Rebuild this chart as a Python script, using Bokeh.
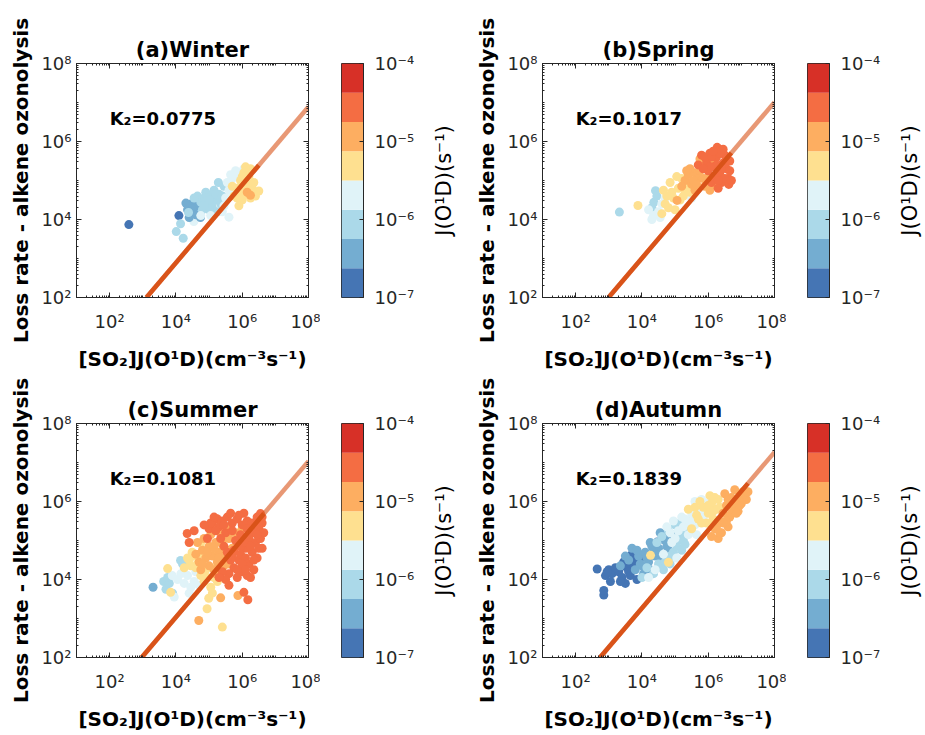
import math
from bokeh.plotting import figure
from bokeh.layouts import row, column
from bokeh.models import FixedTicker, LogColorMapper, LogAxis, ColumnDataSource, Range1d
from bokeh.core.properties import value
from bokeh.embed import file_html
from bokeh.resources import INLINE

FONT = "DejaVu Sans"
INK = "#262626"
FIT_COLOR = "#D95319"

# ---------------- texts / ticks ----------------
titles = ["(a)Winter", "(b)Spring", "(c)Summer", "(d)Autumn"]
k2_values = [0.0775, 0.1017, 0.1081, 0.1839]
k2_labels = ["K₂=0.0775", "K₂=0.1017", "K₂=0.1081", "K₂=0.1839"]
x_label = "[SO₂]J(O¹D)(cm⁻³s⁻¹)"
y_label = "Loss rate - alkene ozonolysis"
cb_label = "J(O¹D)(s⁻¹)"

x_tick_values = [1e2, 1e4, 1e6, 1e8]
x_tick_labels = ["10²", "10⁴", "10⁶", "10⁸"]
y_tick_values = [1e2, 1e4, 1e6, 1e8]
y_tick_labels = ["10²", "10⁴", "10⁶", "10⁸"]
cb_tick_values = [1e-7, 1e-6, 1e-5, 1e-4]
cb_tick_labels = ["10⁻⁷", "10⁻⁶", "10⁻⁵", "10⁻⁴"]
cb_bin_edges_log = [-7.0, -6.625, -6.25, -5.875, -5.5, -5.125, -4.75, -4.375, -4.0]
cb_colors = ["#4575b4", "#74add1", "#abd9e9", "#e0f3f8",
             "#fee090", "#fdae61", "#f46d43", "#d73027"]

# ---------------- data (log10 values) ----------------
winter_logx = [2.58, 4.09, 4.14, 4.01, 4.22, 4.54, 5.60,
               4.35, 4.45, 4.55, 4.62, 4.50, 4.70, 4.40, 4.74, 4.30, 4.48, 4.60,
               4.75, 4.85, 4.95, 5.05, 5.10, 5.20, 5.30, 4.90, 5.00, 5.15, 5.35, 5.25, 4.80, 5.28, 5.45, 4.65, 4.55, 4.38,
               4.95, 5.10, 5.20, 5.00, 4.85, 5.40,
               5.40, 5.50, 5.55, 5.65, 5.80, 5.95, 5.60, 5.45, 5.05, 4.75, 5.70, 6.05, 5.75, 5.90,
               5.75, 5.85, 5.95, 6.05, 6.10, 6.20, 6.00, 5.90, 6.15, 6.30, 6.25, 6.50, 5.70, 6.35, 6.10, 6.40,
               5.95, 6.05, 6.20, 6.25, 5.85, 6.00,
               6.15, 6.25]
winter_logy = [3.87, 4.10, 3.89, 3.69, 3.52, 3.95, 4.06,
               4.25, 4.40, 4.30, 4.45, 4.15, 4.35, 4.05, 4.05, 4.42, 4.28, 4.12,
               4.45, 4.55, 4.40, 4.60, 4.30, 4.50, 4.65, 4.70, 4.25, 4.75, 4.40, 4.20, 4.25, 4.95, 4.85, 4.60, 4.55, 4.18,
               4.55, 4.45, 4.65, 4.50, 4.35, 4.60,
               4.20, 4.55, 4.95, 5.15, 5.25, 5.20, 4.75, 4.35, 4.10, 4.10, 5.05, 5.30, 5.15, 5.10,
               4.60, 4.80, 5.00, 5.20, 4.90, 5.10, 4.50, 4.35, 4.65, 4.80, 5.30, 4.73, 4.85, 4.95, 5.35, 4.60,
               4.70, 4.85, 4.95, 4.55, 4.55, 5.10,
               4.70, 4.62]
winter_logj = [-6.85, -6.80, -6.05, -6.10, -6.00, -5.70, -5.65,
               -6.45, -6.40, -6.50, -6.45, -6.40, -6.45, -6.50, -6.40, -6.45, -6.45, -6.50,
               -6.05, -6.00, -6.10, -6.05, -6.00, -6.05, -6.10, -6.05, -6.00, -6.05, -6.10, -6.05, -6.00, -6.05, -6.05, -6.10, -6.05, -6.00,
               -6.05, -6.10, -6.00, -6.05, -6.10, -6.00,
               -5.70, -5.65, -5.75, -5.70, -5.65, -5.70, -5.75, -5.70, -5.65, -5.70, -5.70, -5.65, -5.70, -5.75,
               -5.30, -5.25, -5.35, -5.30, -5.30, -5.25, -5.30, -5.35, -5.30, -5.25, -5.30, -5.30, -5.35, -5.30, -5.25, -5.30,
               -5.30, -5.25, -5.35, -5.30, -5.30, -5.25,
               -4.95, -4.90]

spring_logx = [3.32, 4.41, 4.36, 4.45, 4.30,
               4.20, 4.35, 4.50, 4.60, 4.30, 4.55, 4.70, 5.50,
               3.88, 4.65, 4.80, 4.85, 4.95, 5.00, 5.10, 5.20, 5.25, 5.35, 4.75, 5.05, 4.60,
               4.90, 5.15, 5.30, 4.70, 5.45,
               5.06, 5.30, 5.40, 5.50, 5.60, 5.70, 5.45, 5.80, 5.90, 5.60, 6.00, 6.10, 5.20, 6.20, 5.75,
               5.55, 5.75, 5.65, 5.85, 5.35, 5.95, 6.05,
               5.80, 5.95, 6.05, 6.15, 6.25, 6.27, 6.35, 6.45, 6.55, 6.60, 6.40, 6.50, 6.20, 6.65, 6.30, 6.00, 6.10, 5.70, 6.62, 6.45,
               5.90, 6.10, 6.35, 6.55, 6.40, 6.25, 6.65, 6.50, 6.30, 6.05, 6.70, 5.85, 6.15]
spring_logy = [4.19, 4.74, 4.44, 4.60, 4.30,
               4.25, 4.10, 4.20, 4.40, 4.00, 4.05, 4.55, 4.55,
               4.36, 4.75, 4.30, 4.95, 4.55, 4.25, 4.80, 5.05, 4.60, 4.85, 4.60, 5.10, 4.15,
               4.70, 4.50, 4.75, 4.40, 4.70,
               4.49, 5.00, 5.15, 4.90, 5.20, 5.05, 5.30, 5.35, 4.85, 4.75, 5.10, 5.50, 4.85, 4.90, 5.55,
               5.00, 5.25, 4.90, 5.05, 5.25, 4.95, 4.75,
               5.65, 5.45, 5.70, 5.35, 5.60, 5.85, 5.20, 5.45, 5.30, 5.05, 4.95, 5.65, 5.10, 5.50, 4.80, 5.25, 4.95, 5.40, 4.90, 5.80,
               5.60, 5.60, 5.70, 5.55, 5.30, 5.40, 5.25, 5.05, 5.00, 5.35, 5.00, 5.30, 5.75]
spring_logj = [-6.05, -6.10, -6.00, -6.05, -6.10,
               -5.70, -5.65, -5.75, -5.70, -5.65, -5.70, -5.75, -5.70,
               -5.30, -5.25, -5.35, -5.30, -5.30, -5.25, -5.30, -5.35, -5.30, -5.25, -5.30, -5.30, -5.35,
               -5.30, -5.25, -5.35, -5.30, -5.25,
               -4.95, -4.90, -5.00, -4.95, -4.90, -4.95, -5.00, -4.95, -4.90, -4.95, -5.00, -4.95, -4.90, -4.95, -4.95,
               -4.95, -4.90, -5.00, -4.95, -4.90, -4.95, -5.00,
               -4.55, -4.50, -4.60, -4.55, -4.50, -4.55, -4.60, -4.55, -4.50, -4.55, -4.60, -4.55, -4.50, -4.55, -4.55, -4.60, -4.55, -4.50, -4.55, -4.55,
               -4.55, -4.50, -4.60, -4.55, -4.50, -4.55, -4.60, -4.55, -4.50, -4.55, -4.60, -4.55, -4.50]

summer_logx = [3.31,
               3.63, 3.70, 3.80, 3.90, 4.14, 4.20, 3.75,
               3.89, 3.95, 4.05, 4.15, 4.25, 4.35, 4.45, 4.55, 4.40, 4.60, 4.70,
               3.84, 3.75, 4.25, 4.35, 4.45, 4.55, 4.65, 4.75, 4.85, 4.94, 4.99, 5.40, 5.05, 5.15, 4.74, 4.49, 5.25, 4.90, 5.10, 5.20,
               4.60, 4.40, 4.70, 4.95,
               4.69, 5.35, 5.87, 4.60, 4.70, 4.80, 4.90, 5.00, 5.10, 5.20, 5.30, 5.00, 5.15, 5.25, 5.40, 5.50, 5.60, 5.35, 4.85, 5.05, 5.70, 4.75, 5.45, 5.80, 6.00, 5.55,
               4.95, 5.15, 5.30, 5.45, 4.65, 4.80, 5.60, 5.20,
               4.34, 4.40, 5.24, 5.10, 5.40, 5.55, 5.70, 5.85, 6.00, 6.15, 6.30, 6.45, 6.55, 6.60, 6.50, 6.35, 6.20, 6.40, 6.55, 6.10, 6.30, 6.45,
               6.20, 6.00, 6.15, 5.85, 5.90, 5.75, 5.60, 5.70, 5.95, 5.80, 5.50, 5.30, 5.00, 4.95, 6.60, 6.65, 5.60, 6.05, 6.17, 5.50, 6.05, 5.65,
               6.35, 6.25,
               5.05, 5.20, 5.35, 5.45, 5.55, 5.65, 5.75, 5.85, 5.95, 6.05, 6.10, 6.25, 6.25, 6.40, 6.50,
               6.35, 5.95, 6.15, 5.70, 5.45, 5.90, 6.45, 6.60, 6.00, 5.40, 5.30, 6.10, 5.15, 4.85, 4.55]
summer_logy = [3.80,
               3.95, 3.75, 3.90, 3.65, 4.49, 4.40, 4.05,
               4.10, 3.55, 4.00, 4.15, 3.90, 4.10, 3.80, 3.95, 3.65, 4.20, 3.85,
               3.67, 4.28, 4.30, 4.55, 4.35, 4.60, 4.40, 4.10, 3.95, 3.25, 3.52, 2.78, 3.80, 4.05, 4.92, 4.70, 3.95, 4.25, 3.65, 4.30,
               4.30, 4.50, 4.65, 4.05,
               2.95, 3.53, 3.59, 4.65, 4.45, 4.75, 4.55, 4.85, 4.60, 4.95, 4.70, 4.35, 4.25, 4.45, 4.90, 4.60, 5.05, 5.20, 5.05, 5.15, 4.80, 4.25, 4.35, 5.20, 5.30, 5.35,
               4.70, 4.80, 4.55, 5.05, 4.95, 4.40, 4.40, 4.15,
               5.18, 4.95, 5.56, 5.45, 5.50, 5.60, 5.45, 5.55, 5.40, 5.50, 5.45, 5.60, 5.69, 5.45, 5.30, 5.20, 5.05, 4.95, 5.05, 4.80, 4.70, 4.55,
               4.40, 4.20, 4.10, 4.05, 4.50, 4.30, 4.15, 4.60, 4.85, 5.00, 5.20, 5.35, 5.30, 5.05, 4.80, 5.20, 3.85, 3.67, 3.48, 4.00, 5.70, 5.70,
               4.25, 4.05,
               5.45, 5.25, 5.05, 4.85, 4.70, 4.50, 4.75, 4.25, 4.65, 4.95, 4.55, 4.85, 5.25, 5.40, 4.80,
               4.50, 5.15, 5.30, 5.25, 5.40, 5.65, 5.15, 5.60, 4.40, 4.20, 4.05, 4.25, 5.60, 5.40, 5.25]
summer_logj = [-6.45,
               -6.05, -6.10, -6.00, -6.05, -6.10, -6.00, -6.05,
               -5.70, -5.65, -5.75, -5.70, -5.65, -5.70, -5.75, -5.70, -5.65, -5.70, -5.75,
               -5.30, -5.25, -5.35, -5.30, -5.30, -5.25, -5.30, -5.35, -5.30, -5.25, -5.30, -5.30, -5.35, -5.30, -5.25, -5.30, -5.35, -5.30, -5.25, -5.30,
               -5.30, -5.25, -5.35, -5.30,
               -4.95, -4.90, -5.00, -4.95, -4.90, -4.95, -5.00, -4.95, -4.90, -4.95, -5.00, -4.95, -4.90, -4.95, -4.95, -5.00, -4.95, -4.90, -4.95, -5.00, -4.95, -4.90, -4.95, -4.95, -5.00, -4.95,
               -4.95, -4.90, -5.00, -4.95, -4.90, -4.95, -5.00, -4.95,
               -4.55, -4.50, -4.60, -4.55, -4.50, -4.55, -4.60, -4.55, -4.50, -4.55, -4.60, -4.55, -4.50, -4.55, -4.55, -4.60, -4.55, -4.50, -4.55, -4.55, -4.60, -4.55,
               -4.50, -4.55, -4.60, -4.55, -4.50, -4.55, -4.60, -4.55, -4.50, -4.55, -4.55, -4.60, -4.55, -4.50, -4.55, -4.55, -4.60, -4.55, -4.50, -4.55, -4.55, -4.60,
               -4.55, -4.50,
               -4.55, -4.50, -4.60, -4.55, -4.50, -4.55, -4.60, -4.55, -4.50, -4.55, -4.60, -4.55, -4.50, -4.55, -4.55,
               -4.60, -4.55, -4.50, -4.55, -4.55, -4.60, -4.55, -4.50, -4.55, -4.60, -4.55, -4.50, -4.55, -4.55, -4.60]

autumn_logx = [2.65, 2.85, 2.85, 2.90, 3.00, 3.10, 3.05, 3.30, 3.40, 3.50, 3.55, 3.65, 3.75, 3.45, 3.85, 4.46, 3.95, 3.70,
               3.20, 3.60, 3.35, 2.95, 3.80,
               3.35, 3.60, 3.80, 3.90, 4.00, 4.10, 4.20, 4.30, 4.40, 4.50, 4.60, 4.70, 4.80, 4.05, 3.70, 3.50, 4.25, 4.90, 4.55,
               3.95, 4.15, 4.35, 4.55, 4.75, 4.25, 3.85, 4.65,
               4.00, 4.15, 4.35, 4.50, 4.65, 4.75, 4.85, 4.95, 5.05, 5.15, 5.25, 5.35, 5.00, 4.80, 5.45, 5.20, 4.45, 4.60,
               4.55, 4.85, 5.05, 5.25, 5.45, 5.30, 4.70, 5.15,
               4.20, 4.40, 4.65, 4.90, 5.10, 5.30, 5.50, 5.60, 5.70, 5.85, 5.40, 5.20, 4.95, 5.05, 5.95, 5.65, 4.75, 5.80,
               5.00, 5.25, 5.55, 5.75, 5.45, 5.90, 4.85, 5.60,
               5.50, 5.70, 5.85, 6.00, 6.10, 5.95, 6.15, 6.25, 5.75, 6.05, 5.60, 4.26, 4.80, 6.30, 5.40,
               5.80, 6.00, 6.20, 6.35, 5.65, 6.15,
               6.20, 6.35, 6.45, 6.55, 6.65, 6.75, 6.85, 6.95, 7.05, 7.15, 6.90, 6.60, 6.40, 6.70, 7.00, 6.50, 6.30, 6.80, 6.10,
               6.55, 6.70, 6.80, 6.95, 7.10, 6.45, 6.25, 6.60, 7.20, 6.85, 6.35]
autumn_logy = [4.27, 3.60, 3.72, 4.10, 4.25, 4.15, 3.95, 4.20, 4.05, 3.90, 4.30, 4.10, 4.40, 4.45, 4.00, 4.96, 4.55, 4.65,
               4.30, 4.20, 3.95, 4.20, 4.50,
               4.35, 4.50, 4.25, 4.60, 4.35, 4.70, 4.45, 4.85, 4.60, 4.80, 4.50, 5.00, 4.75, 4.15, 4.80, 4.60, 4.25, 5.15, 5.20,
               4.40, 4.55, 4.70, 4.65, 4.85, 4.95, 4.75, 5.10,
               4.05, 4.30, 4.15, 4.40, 4.25, 4.55, 4.40, 4.70, 4.85, 5.05, 5.20, 5.35, 5.40, 5.25, 5.50, 4.75, 4.95, 5.10,
               4.35, 4.60, 4.95, 5.00, 5.25, 4.90, 4.45, 5.45,
               4.05, 4.25, 4.65, 4.95, 5.25, 5.55, 5.70, 5.40, 5.85, 5.60, 5.15, 5.60, 5.50, 4.55, 5.95, 5.15, 5.35, 6.05,
               5.05, 5.35, 5.55, 5.70, 5.45, 5.80, 5.20, 6.00,
               5.30, 5.55, 5.85, 5.70, 5.95, 5.45, 5.55, 5.80, 6.00, 6.15, 5.85, 4.62, 4.44, 6.05, 5.80,
               5.45, 5.90, 6.10, 5.85, 5.65, 5.75,
               5.30, 5.50, 5.70, 5.90, 5.60, 5.85, 6.05, 6.15, 6.25, 6.05, 5.75, 5.35, 5.20, 6.10, 5.95, 6.20, 5.05, 6.30, 5.10,
               5.50, 5.70, 5.95, 5.90, 6.20, 5.45, 5.35, 6.05, 6.25, 5.70, 5.20]
autumn_logj = [-6.85, -6.80, -6.85, -6.80, -6.85, -6.80, -6.85, -6.80, -6.85, -6.80, -6.85, -6.80, -6.85, -6.80, -6.85, -6.80, -6.85, -6.80,
               -6.85, -6.80, -6.85, -6.80, -6.85,
               -6.45, -6.40, -6.50, -6.45, -6.40, -6.45, -6.50, -6.40, -6.45, -6.45, -6.40, -6.50, -6.45, -6.40, -6.45, -6.50, -6.40, -6.45, -6.45,
               -6.45, -6.40, -6.50, -6.45, -6.40, -6.45, -6.50, -6.40,
               -6.05, -6.00, -6.10, -6.05, -6.00, -6.05, -6.10, -6.05, -6.00, -6.05, -6.10, -6.05, -6.00, -6.05, -6.05, -6.10, -6.05, -6.00,
               -6.05, -6.00, -6.10, -6.05, -6.00, -6.05, -6.10, -6.05,
               -5.70, -5.65, -5.75, -5.70, -5.65, -5.70, -5.75, -5.70, -5.65, -5.70, -5.75, -5.70, -5.65, -5.70, -5.70, -5.75, -5.70, -5.65,
               -5.70, -5.65, -5.75, -5.70, -5.65, -5.70, -5.75, -5.70,
               -5.30, -5.25, -5.35, -5.30, -5.30, -5.25, -5.30, -5.35, -5.30, -5.25, -5.30, -5.30, -5.35, -5.30, -5.25,
               -5.30, -5.25, -5.35, -5.30, -5.30, -5.25,
               -4.95, -4.90, -5.00, -4.95, -4.90, -4.95, -5.00, -4.95, -4.90, -4.95, -5.00, -4.95, -4.90, -4.95, -4.95, -5.00, -4.95, -4.90, -4.95,
               -4.95, -4.90, -5.00, -4.95, -4.90, -4.95, -5.00, -4.95, -4.90, -4.95, -5.00]

season_logx = [winter_logx, spring_logx, summer_logx, autumn_logx]
season_logy = [winter_logy, spring_logy, summer_logy, autumn_logy]
season_logj = [winter_logj, spring_logj, summer_logj, autumn_logj]

for _i in range(4):
    if not (len(season_logx[_i]) == len(season_logy[_i]) == len(season_logj[_i])):
        raise SystemExit("length mismatch in panel %d: %d %d %d" % (
            _i, len(season_logx[_i]), len(season_logy[_i]), len(season_logj[_i])))

mapper = LogColorMapper(palette=cb_colors, low=1e-7, high=1e-4)


def minor_ticks(lo_exp, hi_exp, majors):
    out = []
    for e in range(lo_exp, hi_exp + 1):
        for k in range(1, 10):
            v = k * 10.0 ** e
            if not any(abs(v - m) / m < 1e-9 for m in majors):
                out.append(v)
    return out


def style_axis(ax, ticks, labels, minors, show_labels, size="18px"):
    ax.ticker = FixedTicker(ticks=ticks, minor_ticks=minors)
    ax.axis_line_color = INK
    ax.axis_line_width = 1
    ax.major_tick_line_color = INK
    ax.minor_tick_line_color = INK
    ax.major_tick_in = 5
    ax.major_tick_out = 0
    ax.minor_tick_in = 2
    ax.minor_tick_out = 0
    ax.major_label_overrides = {t: l for t, l in zip(ticks, labels)}
    ax.major_label_text_font = FONT
    if show_labels:
        ax.major_label_text_font_size = size
        ax.major_label_text_color = INK
    else:
        ax.major_label_text_font_size = "1px"
        ax.major_label_text_alpha = 0
        ax.major_label_standoff = 0


def make_panel(i, top_border, bottom_border):
    p = figure(frame_width=232, frame_height=234,
               x_axis_type="log", y_axis_type="log",
               x_range=(1e1, 1e8), y_range=(1e2, 1e8),
               min_border_left=76, min_border_right=12,
               min_border_top=top_border, min_border_bottom=bottom_border,
               output_backend="svg", toolbar_location=None, title=titles[i])
    p.grid.visible = False
    p.outline_line_color = INK
    p.outline_line_width = 1
    p.title.align = "center"
    p.title.text_font = FONT
    p.title.text_font_size = "21px"
    p.title.text_font_style = "bold"
    p.title.text_color = "black"
    p.title.standoff = 4

    xminor = minor_ticks(1, 8, x_tick_values)
    yminor = minor_ticks(2, 8, y_tick_values)

    xa = p.below[0]
    style_axis(xa, x_tick_values, x_tick_labels, xminor, True)
    xa.major_label_standoff = 13
    xa.axis_label = x_label
    xa.axis_label_text_font = FONT
    xa.axis_label_text_font_size = "20px"
    xa.axis_label_text_font_style = "bold"
    xa.axis_label_text_color = "black"
    xa.axis_label_standoff = 12

    ya = p.left[0]
    style_axis(ya, y_tick_values, y_tick_labels, yminor, True)
    ya.major_label_standoff = 5
    ya.axis_label = y_label
    ya.axis_label_text_font = FONT
    ya.axis_label_text_font_size = "20px"
    ya.axis_label_text_font_style = "bold"
    ya.axis_label_text_color = "black"
    ya.axis_label_standoff = 5

    top_ax = LogAxis()
    style_axis(top_ax, x_tick_values, x_tick_labels, xminor, False)
    p.add_layout(top_ax, "above")
    right_ax = LogAxis()
    style_axis(right_ax, y_tick_values, y_tick_labels, yminor, False)
    p.add_layout(right_ax, "right")

    src = ColumnDataSource(dict(
        x=[10 ** v for v in season_logx[i]],
        y=[10 ** v for v in season_logy[i]],
        j=[10 ** v for v in season_logj[i]],
    ))
    p.scatter("x", "y", source=src, size=9, marker="circle",
              fill_color={"field": "j", "transform": mapper}, line_color=None)

    k2 = k2_values[i]
    x_start = 1e2 / k2
    p.line([x_start, 1e8], [k2 * x_start, k2 * 1e8],
           line_width=4.5, line_color=FIT_COLOR, line_alpha=0.6)
    x_end = 10 ** max(season_logx[i])
    p.line([x_start, x_end], [k2 * x_start, k2 * x_end],
           line_width=4.5, line_color=FIT_COLOR)

    p.text(x=[1e2], y=[10 ** 6.6], text=[k2_labels[i]],
           text_font=value(FONT), text_font_size="18px", text_font_style="bold",
           text_align="left", text_baseline="middle", text_color="black")
    return p


def make_cbar(top_border, bottom_border):
    c = figure(frame_width=22, frame_height=234,
               x_range=(0, 1), y_range=(1e-7, 1e-4), y_axis_type="log",
               y_axis_location="right",
               min_border_left=21, min_border_right=62,
               min_border_top=top_border, min_border_bottom=bottom_border,
               output_backend="svg", toolbar_location=None)
    c.xaxis.visible = False
    c.grid.visible = False
    c.outline_line_color = INK
    c.quad(left=0, right=1,
           bottom=[10 ** e for e in cb_bin_edges_log[:-1]],
           top=[10 ** e for e in cb_bin_edges_log[1:]],
           fill_color=cb_colors, line_color=None)
    ax = c.right[0]
    style_axis(ax, cb_tick_values, cb_tick_labels, [], True)
    ax.major_tick_in = 4
    ax.major_label_standoff = 11
    return c


def make_cbar_title(top_border, bottom_border, right_border):
    # narrow companion figure whose left axis carries the colour-bar title
    t = figure(frame_width=1, frame_height=234,
               x_range=Range1d(0, 1), y_range=Range1d(0, 1),
               min_border_left=33, min_border_right=right_border,
               min_border_top=top_border, min_border_bottom=bottom_border,
               output_backend="svg", toolbar_location=None)
    t.xaxis.visible = False
    t.grid.visible = False
    t.outline_line_color = None
    ax = t.yaxis[0]
    ax.ticker = FixedTicker(ticks=[])
    ax.axis_line_color = None
    ax.major_tick_out = 0
    ax.major_tick_in = 0
    ax.minor_tick_out = 0
    ax.minor_tick_in = 0
    ax.major_label_standoff = 0
    ax.axis_label = cb_label
    ax.axis_label_text_font = FONT
    ax.axis_label_text_font_size = "21px"
    ax.axis_label_text_font_style = "normal"
    ax.axis_label_text_color = "black"
    ax.axis_label_standoff = 3
    return t


fa = make_panel(0, 63, 77)
ca = make_cbar(63, 77)
ta = make_cbar_title(63, 77, 7)
fb = make_panel(1, 63, 77)
cbb = make_cbar(63, 77)
tb = make_cbar_title(63, 77, 0)
fc = make_panel(2, 49, 78)
cc = make_cbar(49, 78)
tc = make_cbar_title(49, 78, 7)
fd = make_panel(3, 49, 78)
cd = make_cbar(49, 78)
td = make_cbar_title(49, 78, 0)

layout = column(row(fa, ca, ta, fb, cbb, tb), row(fc, cc, tc, fd, cd, td))

with open("out.html", "w") as f:
    f.write(file_html(layout, INLINE))
